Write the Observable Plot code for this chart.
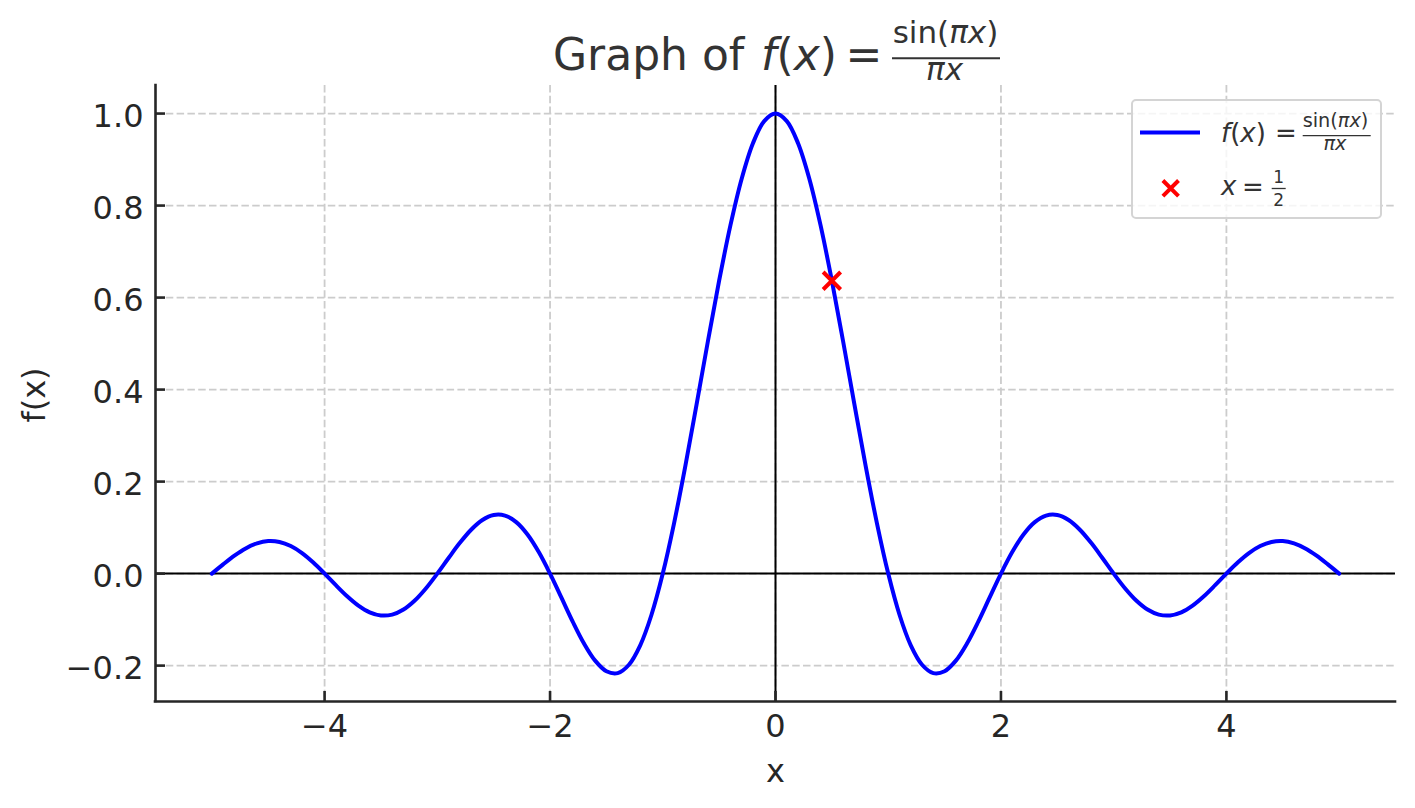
<!DOCTYPE html>
<html>
<head>
<meta charset="utf-8">
<script src="https://cdn.jsdelivr.net/npm/d3@7"></script>
<script src="https://cdn.jsdelivr.net/npm/@observablehq/plot@0.6"></script>
<style>
  html, body { margin: 0; padding: 0; background: #fff; }
  #wrap { position: relative; width: 1415px; height: 808px; font-family: "DejaVu Sans", sans-serif; overflow: hidden; }
  #wrap svg { display: block; }
  #legend { position: absolute; left: 0; top: 0; pointer-events: none; }
</style>
</head>
<body>
<div id="wrap"></div>
<script>
// ---- data ----
const xValues = [
  -5.0,-4.9,-4.8,-4.7,-4.6,-4.5,-4.4,-4.3,-4.2,-4.1,
  -4.0,-3.9,-3.8,-3.7,-3.6,-3.5,-3.4,-3.3,-3.2,-3.1,
  -3.0,-2.9,-2.8,-2.7,-2.6,-2.5,-2.4,-2.3,-2.2,-2.1,
  -2.0,-1.9,-1.8,-1.7,-1.6,-1.5,-1.4,-1.3,-1.2,-1.1,
  -1.0,-0.9,-0.8,-0.7,-0.6,-0.5,-0.4,-0.3,-0.2,-0.1,
  0.0,
  0.1,0.2,0.3,0.4,0.5,0.6,0.7,0.8,0.9,1.0,
  1.1,1.2,1.3,1.4,1.5,1.6,1.7,1.8,1.9,2.0,
  2.1,2.2,2.3,2.4,2.5,2.6,2.7,2.8,2.9,3.0,
  3.1,3.2,3.3,3.4,3.5,3.6,3.7,3.8,3.9,4.0,
  4.1,4.2,4.3,4.4,4.5,4.6,4.7,4.8,4.9,5.0
];
const fValues = [
  0.0,0.02007,0.03898,0.05479,0.06581,0.07074,0.06880,0.05989,0.04455,0.02399,
  0.0,-0.02522,-0.04924,-0.06960,-0.08409,-0.09095,-0.08904,-0.07804,-0.05847,-0.03173,
  0.0,0.03392,0.06682,0.09538,0.11643,0.12732,0.12614,0.11196,0.08504,0.04684,
  0.0,-0.05177,-0.10394,-0.15148,-0.18921,-0.21221,-0.21624,-0.19809,-0.15592,-0.08942,
  0.0,0.10929,0.23387,0.36788,0.50455,0.63662,0.75683,0.85839,0.93549,0.98363,
  1.0,
  0.98363,0.93549,0.85839,0.75683,0.63662,0.50455,0.36788,0.23387,0.10929,0.0,
  -0.08942,-0.15592,-0.19809,-0.21624,-0.21221,-0.18921,-0.15148,-0.10394,-0.05177,0.0,
  0.04684,0.08504,0.11196,0.12614,0.12732,0.11643,0.09538,0.06682,0.03392,0.0,
  -0.03173,-0.05847,-0.07804,-0.08904,-0.09095,-0.08409,-0.06960,-0.04924,-0.02522,0.0,
  0.02399,0.04455,0.05989,0.06880,0.07074,0.06581,0.05479,0.03898,0.02007,0.0
];
const markX = [0.5];
const markY = [0.63662];
const xTicks = [-4, -2, 0, 2, 4];
const yTicks = [-0.2, 0.0, 0.2, 0.4, 0.6, 0.8, 1.0];
const xDomain = [-5.5, 5.5];
const yDomain = [-0.278, 1.061];

// ---- layout ----
const W = 1415, TITLE_H = 92, OVERLAP = 12, H = 808 - TITLE_H + OVERLAP;
const mL = 155, mR = 20, mT = 5, mB = 107;
const innerW = W - mL - mR, innerH = H - mT - mB;
const ink = "#262626";
const fmt = d => (d < 0 ? "\u2212" : "") + Math.abs(d).toFixed(1);
const fmtInt = d => (d < 0 ? "\u2212" : "") + Math.abs(d);

const wrap = document.getElementById("wrap");

// ---- title (separate svg above the chart) ----
const tsvg = d3.create("svg").attr("width", W).attr("height", TITLE_H)
  .style("font-family", "'DejaVu Sans', sans-serif");
const tc = "#333333";
tsvg.append("text").attr("x", 553).attr("y", 70).attr("font-size", 44).attr("fill", tc).text("Graph of");
const fx = tsvg.append("text").attr("x", 761).attr("y", 70).attr("font-size", 44).attr("fill", tc);
fx.append("tspan").attr("font-style", "italic").text("f");
fx.append("tspan").text("(");
fx.append("tspan").attr("font-style", "italic").text("x");
fx.append("tspan").text(")");
tsvg.append("text").attr("x", 864).attr("y", 70).attr("font-size", 44).attr("fill", tc).attr("text-anchor", "middle").text("=");
tsvg.append("line").attr("x1", 892).attr("x2", 1000).attr("y1", 58.3).attr("y2", 58.3).attr("stroke", tc).attr("stroke-width", 2);
const tnum = tsvg.append("text").attr("x", 945.5).attr("y", 43).attr("font-size", 31).attr("fill", tc).attr("text-anchor", "middle");
tnum.append("tspan").text("sin(");
tnum.append("tspan").attr("font-style", "italic").text("\u03c0x");
tnum.append("tspan").text(")");
tsvg.append("text").attr("x", 944.5).attr("y", 80).attr("font-size", 31).attr("fill", tc).attr("text-anchor", "middle")
  .attr("font-style", "italic").text("\u03c0x");
wrap.appendChild(tsvg.node());

// ---- chart ----
const curve = xValues.map((x, i) => ({x, y: fValues[i]}));
const marker = markX.map((x, i) => ({x, y: markY[i]}));
const gridStyle = {stroke: "#cccccc", strokeOpacity: 1, strokeWidth: 1.8, strokeDasharray: "7.5,3.3"};

const chart = Plot.plot({
  width: W, height: H,
  marginLeft: mL, marginRight: mR, marginTop: mT, marginBottom: mB,
  x: {domain: xDomain, label: null},
  y: {domain: yDomain, label: null},
  style: {fontFamily: "'DejaVu Sans', sans-serif", fontSize: "32px", color: ink, background: "transparent", overflow: "visible"},
  marks: [
    Plot.gridX(xTicks, gridStyle),
    Plot.gridY(yTicks, gridStyle),
    Plot.ruleY([0], {stroke: "black", strokeWidth: 2}),
    Plot.ruleX([0], {stroke: "black", strokeWidth: 2}),
    Plot.line(curve, {x: "x", y: "y", stroke: "#0000ff", strokeWidth: 4, curve: "catmull-rom"}),
    Plot.dot(marker, {x: "x", y: "y", symbol: "times", r: 8, stroke: "#ff0000", strokeWidth: 4}),
    Plot.ruleX([xDomain[0]], {stroke: ink, strokeWidth: 2.6, strokeLinecap: "square"}),
    Plot.ruleY([yDomain[0]], {stroke: ink, strokeWidth: 2.6, strokeLinecap: "square"}),
    Plot.tickX(xTicks, {x: d => d, stroke: ink, strokeWidth: 2.6, insetTop: innerH - 10}),
    Plot.tickY(yTicks, {y: d => d, stroke: ink, strokeWidth: 2.6, insetRight: innerW - 10}),
    Plot.axisX(xTicks, {tickSize: 0, tickPadding: 13, tickFormat: fmtInt, label: null, fill: ink}),
    Plot.axisY(yTicks, {tickSize: 0, tickPadding: 12, tickFormat: fmt, label: null, dy: 3.5, fill: ink}),
    Plot.text(["x"], {frameAnchor: "bottom", lineAnchor: "middle", textAnchor: "middle", dy: 70.5, text: d => d, fill: ink, fontSize: 32}),
    Plot.text(["f(x)"], {frameAnchor: "left", lineAnchor: "middle", textAnchor: "middle", dx: -121, dy: 1.5, rotate: -90, text: d => d, fill: ink, fontSize: 32})
  ]
});
chart.style.marginTop = (-OVERLAP) + "px";
wrap.appendChild(chart);

// ---- legend overlay ----
const lsvg = d3.create("svg").attr("id", "legend").attr("width", W).attr("height", 808)
  .style("font-family", "'DejaVu Sans', sans-serif");
lsvg.append("rect").attr("x", 1132).attr("y", 100).attr("width", 249).attr("height", 118).attr("rx", 4)
  .attr("fill", "#ffffff").attr("fill-opacity", 0.8).attr("stroke", "#d4d4d4").attr("stroke-width", 2);
lsvg.append("line").attr("x1", 1140).attr("x2", 1200).attr("y1", 132.5).attr("y2", 132.5)
  .attr("stroke", "#0000ff").attr("stroke-width", 4);
const lc = "#333333";
const l1 = lsvg.append("text").attr("x", 1221).attr("y", 142).attr("font-size", 26).attr("fill", lc);
l1.append("tspan").attr("font-style", "italic").text("f");
l1.append("tspan").text("(");
l1.append("tspan").attr("font-style", "italic").text("x");
l1.append("tspan").text(")");
lsvg.append("text").attr("x", 1286).attr("y", 142).attr("font-size", 26).attr("fill", lc).attr("text-anchor", "middle").text("=");
lsvg.append("line").attr("x1", 1302.7).attr("x2", 1370.7).attr("y1", 135.7).attr("y2", 135.7).attr("stroke", lc).attr("stroke-width", 1.3);
const ln = lsvg.append("text").attr("x", 1335.5).attr("y", 126.7).attr("font-size", 19.3).attr("fill", lc).attr("text-anchor", "middle");
ln.append("tspan").text("sin(");
ln.append("tspan").attr("font-style", "italic").text("\u03c0x");
ln.append("tspan").text(")");
lsvg.append("text").attr("x", 1335).attr("y", 150).attr("font-size", 19.3).attr("fill", lc).attr("text-anchor", "middle")
  .attr("font-style", "italic").text("\u03c0x");
// marker sample
const mx = 1170.7, my = 188.3, a = 7.8;
lsvg.append("path").attr("d", `M${mx-a},${my-a}L${mx+a},${my+a}M${mx-a},${my+a}L${mx+a},${my-a}`)
  .attr("stroke", "#ff0000").attr("stroke-width", 4).attr("fill", "none");
lsvg.append("text").attr("x", 1221).attr("y", 195).attr("font-size", 26).attr("fill", lc).attr("font-style", "italic").text("x");
lsvg.append("text").attr("x", 1253).attr("y", 196).attr("font-size", 26).attr("fill", lc).attr("text-anchor", "middle").text("=");
lsvg.append("line").attr("x1", 1271.7).attr("x2", 1285.7).attr("y1", 188.5).attr("y2", 188.5).attr("stroke", lc).attr("stroke-width", 1.3);
lsvg.append("text").attr("x", 1278.7).attr("y", 183.3).attr("font-size", 17).attr("fill", lc).attr("text-anchor", "middle").text("1");
lsvg.append("text").attr("x", 1278.7).attr("y", 205.7).attr("font-size", 17).attr("fill", lc).attr("text-anchor", "middle").text("2");
wrap.appendChild(lsvg.node());
</script>
</body>
</html>
